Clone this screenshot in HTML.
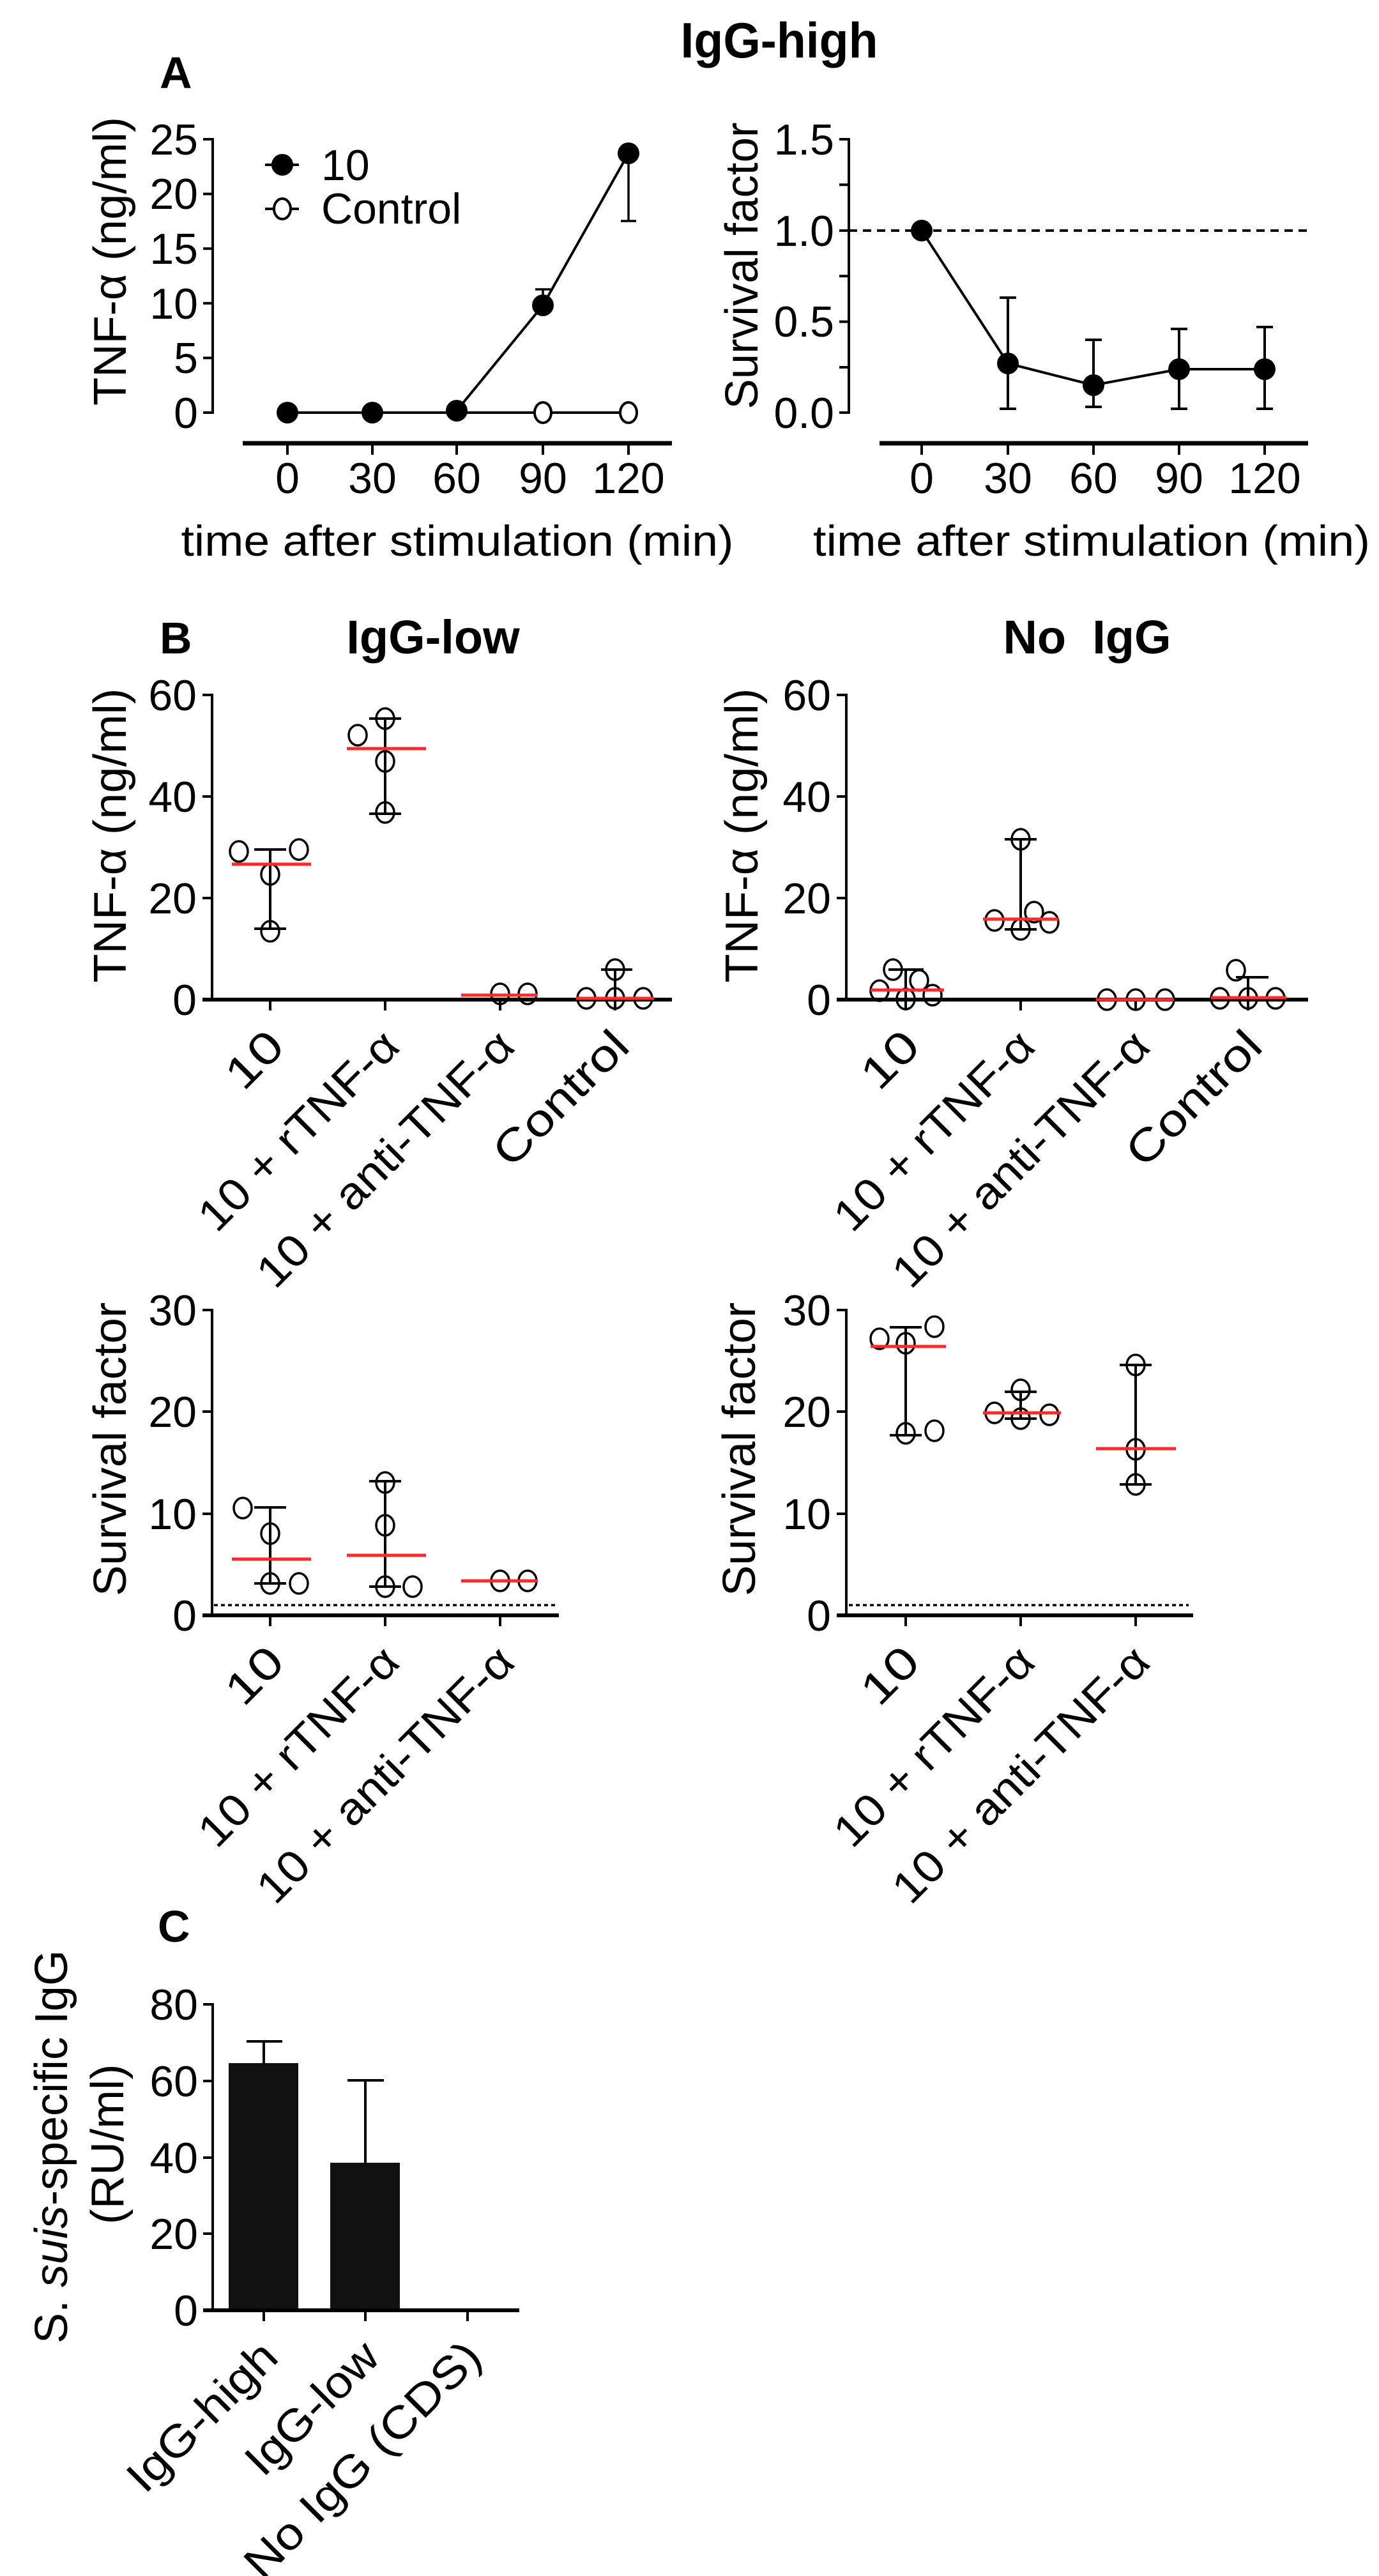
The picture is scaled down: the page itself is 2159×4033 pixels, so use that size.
<!DOCTYPE html>
<html><head><meta charset="utf-8"><style>html,body{margin:0;padding:0;background:#fff}svg{display:block}</style></head>
<body>
<svg xmlns="http://www.w3.org/2000/svg" width="2159" height="4033" viewBox="0 0 2159 4033" font-family="Liberation Sans, Arial, sans-serif" fill="#000">
<rect width="2159" height="4033" fill="#fff"/>
<!-- Titles -->
<text x="1220" y="90" font-size="78" font-weight="bold" text-anchor="middle" textLength="309" lengthAdjust="spacingAndGlyphs">IgG-high</text>
<text x="250" y="138" font-size="70" font-weight="bold">A</text>
<text x="250" y="1023" font-size="70" font-weight="bold">B</text>
<text x="678" y="1023" font-size="74" font-weight="bold" text-anchor="middle">IgG-low</text>
<text x="1702" y="1023" font-size="74" font-weight="bold" text-anchor="middle" xml:space="preserve">No  IgG</text>
<text x="247" y="3040" font-size="70" font-weight="bold">C</text>

<g stroke="#000" fill="none" stroke-width="4">
<!-- ===== Panel A left ===== -->
<path d="M318 218H333V646H318M318 303.6H333M318 389.2H333M318 474.8H333M318 560.4H333"/>
<path d="M380 694H1052" stroke-width="7"/>
<path d="M450 694V712M583 694V712M715 694V712M850 694V712M984 694V712"/>
<path d="M450 646H984"/>
<path d="M715 643L850 478L984 240"/>
<path d="M850 478V453M838 453H862M984 240V346M972 346H996" stroke-width="3.5"/>
<path d="M415 258H468M415 327H468"/>
<!-- ===== Panel A right ===== -->
<path d="M1314 218H1329V646H1314M1314 289.3H1329M1314 361H1329M1314 432.3H1329M1314 503.6H1329M1314 575H1329"/>
<path d="M1377 694H2048" stroke-width="7"/>
<path d="M1443 694V712M1578 694V712M1712 694V712M1846 694V712M1980 694V712"/>
<path d="M1329 361H2048" stroke-dasharray="13 9"/>
<path d="M1443 361L1578 569L1712 603L1846 578L1980 578"/>
<path d="M1578 466V640M1565 466H1591M1565 640H1591M1712 532V637M1699 532H1725M1699 637H1725M1846 515V640M1833 515H1859M1833 640H1859M1980 512V640M1967 512H1993M1967 640H1993"/>
</g>
<g fill="#000">
<circle cx="450" cy="646" r="17"/><circle cx="583" cy="646" r="17"/><circle cx="715" cy="643" r="17"/><circle cx="850" cy="478" r="17"/><circle cx="984" cy="240" r="17"/>
<circle cx="442" cy="258" r="17"/>
<circle cx="1443" cy="361" r="17"/><circle cx="1578" cy="569" r="17"/><circle cx="1712" cy="603" r="17"/><circle cx="1846" cy="578" r="17"/><circle cx="1980" cy="578" r="17"/>
</g>
<g fill="#fff" stroke="#000" stroke-width="4">
<ellipse cx="850" cy="646" rx="13" ry="16"/><ellipse cx="984" cy="646" rx="13" ry="16"/>
<ellipse cx="442" cy="327" rx="13" ry="16"/>
</g>
<g font-size="68" text-anchor="end">
<text x="310" y="670">0</text><text x="310" y="584">5</text><text x="310" y="499">10</text><text x="310" y="413">15</text><text x="310" y="327">20</text><text x="310" y="242">25</text>
<text x="1306" y="670">0.0</text><text x="1306" y="527">0.5</text><text x="1306" y="385">1.0</text><text x="1306" y="242">1.5</text>
</g>
<g font-size="68" text-anchor="middle">
<text x="450" y="772">0</text><text x="583" y="772">30</text><text x="715" y="772">60</text><text x="850" y="772">90</text><text x="984" y="772">120</text>
<text x="1443" y="772">0</text><text x="1578" y="772">30</text><text x="1712" y="772">60</text><text x="1846" y="772">90</text><text x="1980" y="772">120</text>
<text x="716" y="870" textLength="865" lengthAdjust="spacingAndGlyphs">time after stimulation (min)</text>
<text x="1709" y="870" textLength="872" lengthAdjust="spacingAndGlyphs">time after stimulation (min)</text>
</g>
<text x="503" y="282" font-size="68">10</text>
<text x="503" y="350" font-size="68">Control</text>
<g font-size="72" text-anchor="middle">
<text transform="translate(197,409) rotate(-90)" textLength="452" lengthAdjust="spacingAndGlyphs">TNF-α (ng/ml)</text>
<text transform="translate(1186,416) rotate(-90)" textLength="449" lengthAdjust="spacingAndGlyphs">Survival factor</text>
<text transform="translate(197,1308) rotate(-90)" textLength="461" lengthAdjust="spacingAndGlyphs">TNF-α (ng/ml)</text>
<text transform="translate(1186,1308) rotate(-90)" textLength="461" lengthAdjust="spacingAndGlyphs">TNF-α (ng/ml)</text>
<text transform="translate(197,2269) rotate(-90)" textLength="460" lengthAdjust="spacingAndGlyphs">Survival factor</text>
<text transform="translate(1182,2269) rotate(-90)" textLength="460" lengthAdjust="spacingAndGlyphs">Survival factor</text>
<text transform="translate(105,3361) rotate(-90)" textLength="616" lengthAdjust="spacingAndGlyphs">S. <tspan font-style="italic">suis</tspan>-specific IgG</text>
<text transform="translate(193,3357) rotate(-90)" textLength="251" lengthAdjust="spacingAndGlyphs">(RU/ml)</text>
</g>

<!-- ===== Panel B axes ===== -->
<g stroke="#000" fill="none" stroke-width="4">
<path d="M317 1088H332V1565M317 1247H332M317 1406H332"/>
<path d="M317 1565H1052" stroke-width="6"/>
<path d="M423 1565V1582M603 1565V1582M783 1565V1582M963 1565V1582"/>
<path d="M1310 1088H1325V1565M1310 1247H1325M1310 1406H1325"/>
<path d="M1310 1565H2048" stroke-width="6"/>
<path d="M1418 1565V1582M1598 1565V1582M1778 1565V1582M1954 1565V1582"/>
<path d="M317 2051H332V2529M317 2210H332M317 2370H332"/>
<path d="M317 2529H875" stroke-width="6"/>
<path d="M423 2529V2546M603 2529V2546M783 2529V2546"/>
<path d="M1310 2051H1325V2529M1310 2210H1325M1310 2370H1325"/>
<path d="M1310 2529H1868" stroke-width="6"/>
<path d="M1418 2529V2546M1598 2529V2546M1778 2529V2546"/>
<path d="M335 2513H869M1329 2513H1861" stroke-width="3.5" stroke-dasharray="6 5"/>
<!-- whiskers -->
<path d="M423 1330V1454M398 1330H448M398 1454H448"/>
<path d="M603 1125V1274M578 1125H628M578 1274H628"/>
<path d="M963 1518V1565M941 1518H990"/>
<path d="M1418 1518V1565M1391 1518H1446"/>
<path d="M1598 1314V1455M1573 1314H1623M1573 1455H1623"/>
<path d="M1954 1530V1565M1935 1530H1986"/>
<path d="M423 2360V2479M398 2360H448M398 2479H448"/>
<path d="M603 2319V2484M578 2319H628M578 2484H628"/>
<path d="M1418 2078V2247M1393 2078H1443M1393 2247H1443"/>
<path d="M1598 2179V2221M1573 2179H1623M1573 2221H1623"/>
<path d="M1778 2137V2324M1753 2137H1803M1753 2324H1803"/>
</g>
<g fill="none" stroke="#000" stroke-width="3.5">
<ellipse cx="374" cy="1333" rx="14" ry="16"/><ellipse cx="468" cy="1330" rx="14" ry="16"/><ellipse cx="423" cy="1369" rx="14" ry="16"/><ellipse cx="423" cy="1458" rx="14" ry="16"/>
<ellipse cx="560" cy="1151" rx="14" ry="16"/><ellipse cx="603" cy="1125" rx="14" ry="16"/><ellipse cx="603" cy="1192" rx="14" ry="16"/><ellipse cx="603" cy="1272" rx="14" ry="16"/>
<ellipse cx="783" cy="1556" rx="14" ry="16"/><ellipse cx="826" cy="1556" rx="14" ry="16"/>
<ellipse cx="918" cy="1563" rx="14" ry="16"/><ellipse cx="963" cy="1563" rx="14" ry="16"/><ellipse cx="1007" cy="1563" rx="14" ry="16"/><ellipse cx="963" cy="1518" rx="14" ry="16"/>
<ellipse cx="1377" cy="1551" rx="14" ry="16"/><ellipse cx="1398" cy="1518" rx="14" ry="16"/><ellipse cx="1418" cy="1564" rx="14" ry="16"/><ellipse cx="1439" cy="1535" rx="14" ry="16"/><ellipse cx="1460" cy="1558" rx="14" ry="16"/>
<ellipse cx="1598" cy="1314" rx="14" ry="16"/><ellipse cx="1557" cy="1441" rx="14" ry="16"/><ellipse cx="1598" cy="1455" rx="14" ry="16"/><ellipse cx="1619" cy="1428" rx="14" ry="16"/><ellipse cx="1643" cy="1444" rx="14" ry="16"/>
<ellipse cx="1733" cy="1565" rx="14" ry="16"/><ellipse cx="1778" cy="1565" rx="14" ry="16"/><ellipse cx="1824" cy="1565" rx="14" ry="16"/>
<ellipse cx="1910" cy="1563" rx="14" ry="16"/><ellipse cx="1935" cy="1519" rx="14" ry="16"/><ellipse cx="1954" cy="1563" rx="14" ry="16"/><ellipse cx="1997" cy="1563" rx="14" ry="16"/>
<ellipse cx="380" cy="2361" rx="14" ry="16"/><ellipse cx="423" cy="2401" rx="14" ry="16"/><ellipse cx="423" cy="2479" rx="14" ry="16"/><ellipse cx="468" cy="2479" rx="14" ry="16"/>
<ellipse cx="603" cy="2321" rx="14" ry="16"/><ellipse cx="603" cy="2388" rx="14" ry="16"/><ellipse cx="603" cy="2484" rx="14" ry="16"/><ellipse cx="646" cy="2484" rx="14" ry="16"/>
<ellipse cx="783" cy="2475" rx="14" ry="16"/><ellipse cx="826" cy="2475" rx="14" ry="16"/>
<ellipse cx="1377" cy="2096" rx="14" ry="16"/><ellipse cx="1463" cy="2077" rx="14" ry="16"/><ellipse cx="1418" cy="2103" rx="14" ry="16"/><ellipse cx="1418" cy="2244" rx="14" ry="16"/><ellipse cx="1463" cy="2240" rx="14" ry="16"/>
<ellipse cx="1598" cy="2176" rx="14" ry="16"/><ellipse cx="1557" cy="2212" rx="14" ry="16"/><ellipse cx="1598" cy="2221" rx="14" ry="16"/><ellipse cx="1643" cy="2215" rx="14" ry="16"/>
<ellipse cx="1778" cy="2137" rx="14" ry="16"/><ellipse cx="1778" cy="2269" rx="14" ry="16"/><ellipse cx="1778" cy="2324" rx="14" ry="16"/>
</g>
<g stroke="#ff2a2a" stroke-width="5" fill="none">
<path d="M363 1353H487M543 1172H667M722 1558H841M902 1563H1024"/>
<path d="M1363 1550H1478M1539 1439H1657M1716 1565H1838M1896 1562H2014"/>
<path d="M363 2441H487M543 2435H667M722 2475H841"/>
<path d="M1363 2108H1481M1539 2212H1661M1716 2268H1841"/>
</g>
<g font-size="68" text-anchor="end">
<text x="308" y="1112">60</text><text x="308" y="1271">40</text><text x="308" y="1430">20</text><text x="308" y="1589">0</text>
<text x="1301" y="1112">60</text><text x="1301" y="1271">40</text><text x="1301" y="1430">20</text><text x="1301" y="1589">0</text>
<text x="308" y="2075">30</text><text x="308" y="2234">20</text><text x="308" y="2394">10</text><text x="308" y="2553">0</text>
<text x="1301" y="2075">30</text><text x="1301" y="2234">20</text><text x="1301" y="2394">10</text><text x="1301" y="2553">0</text>
</g>
<g font-size="70" text-anchor="end" dominant-baseline="central">
<text transform="translate(432,1625) rotate(-45)" textLength="96" lengthAdjust="spacingAndGlyphs">10</text>
<text transform="translate(612,1625) rotate(-45)" textLength="410" lengthAdjust="spacingAndGlyphs">10 + rTNF-α</text>
<text transform="translate(792,1625) rotate(-45)" textLength="535" lengthAdjust="spacingAndGlyphs">10 + anti-TNF-α</text>
<text transform="translate(972,1625) rotate(-45)" textLength="267" lengthAdjust="spacingAndGlyphs">Control</text>
<text transform="translate(1427,1625) rotate(-45)" textLength="96" lengthAdjust="spacingAndGlyphs">10</text>
<text transform="translate(1607,1625) rotate(-45)" textLength="410" lengthAdjust="spacingAndGlyphs">10 + rTNF-α</text>
<text transform="translate(1787,1625) rotate(-45)" textLength="535" lengthAdjust="spacingAndGlyphs">10 + anti-TNF-α</text>
<text transform="translate(1963,1625) rotate(-45)" textLength="267" lengthAdjust="spacingAndGlyphs">Control</text>
<text transform="translate(432,2589) rotate(-45)" textLength="96" lengthAdjust="spacingAndGlyphs">10</text>
<text transform="translate(612,2589) rotate(-45)" textLength="410" lengthAdjust="spacingAndGlyphs">10 + rTNF-α</text>
<text transform="translate(792,2589) rotate(-45)" textLength="535" lengthAdjust="spacingAndGlyphs">10 + anti-TNF-α</text>
<text transform="translate(1427,2589) rotate(-45)" textLength="96" lengthAdjust="spacingAndGlyphs">10</text>
<text transform="translate(1607,2589) rotate(-45)" textLength="410" lengthAdjust="spacingAndGlyphs">10 + rTNF-α</text>
<text transform="translate(1787,2589) rotate(-45)" textLength="535" lengthAdjust="spacingAndGlyphs">10 + anti-TNF-α</text>
<text transform="translate(422,3677) rotate(-45)" textLength="300" lengthAdjust="spacingAndGlyphs">IgG-high</text>
<text transform="translate(581,3677) rotate(-45)" textLength="263" lengthAdjust="spacingAndGlyphs">IgG-low</text>
<text transform="translate(741,3677) rotate(-45)" textLength="491" lengthAdjust="spacingAndGlyphs">No IgG (CDS)</text>
</g>

<!-- ===== Panel C ===== -->
<rect x="358" y="3230" width="109" height="387" fill="#111"/>
<rect x="517" y="3386" width="109" height="231" fill="#111"/>
<g stroke="#000" fill="none" stroke-width="4">
<path d="M318 3138H333V3617M318 3258H333M318 3378H333M318 3497H333"/>
<path d="M318 3617H813" stroke-width="6"/>
<path d="M413 3617V3634M572 3617V3634M732 3617V3634"/>
<path d="M413 3230V3196M386 3196H442M572 3386V3257M544 3257H601"/>
</g>
<g font-size="68" text-anchor="end">
<text x="310" y="3162">80</text><text x="310" y="3282">60</text><text x="310" y="3402">40</text><text x="310" y="3521">20</text><text x="310" y="3641">0</text>
</g>
</svg>
</body></html>
